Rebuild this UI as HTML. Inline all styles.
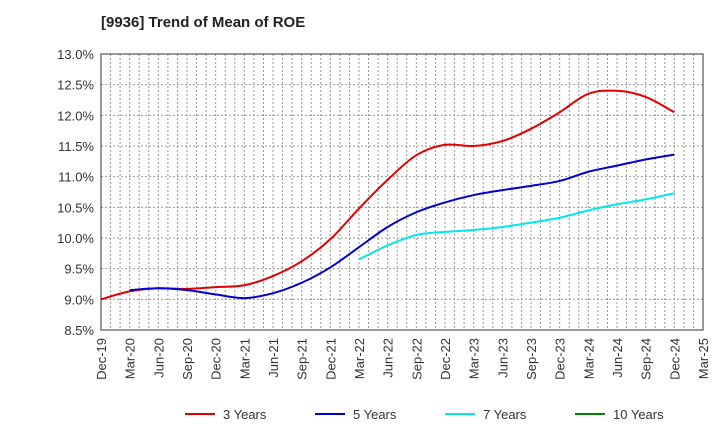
<!DOCTYPE html>
<html><head><meta charset="utf-8"><style>
body{margin:0;background:#fff;font-family:"Liberation Sans",sans-serif}
svg text{font-family:"Liberation Sans",sans-serif}
</style></head><body>
<svg id="c" width="720" height="440">
<text x="101" y="27" font-size="15" font-weight="bold" fill="#222">[9936]  Trend of Mean of ROE</text>
<g id="grid"></g><g id="series"></g><g id="axes"></g><g id="legend"></g>
</svg>
<script>
const xLabels=["Dec-19","Mar-20","Jun-20","Sep-20","Dec-20","Mar-21","Jun-21","Sep-21","Dec-21","Mar-22","Jun-22","Sep-22","Dec-22","Mar-23","Jun-23","Sep-23","Dec-23","Mar-24","Jun-24","Sep-24","Dec-24","Mar-25"];
const yTicks=[8.5,9.0,9.5,10.0,10.5,11.0,11.5,12.0,12.5,13.0];
const s3=[9.0,9.13,9.18,9.17,9.2,9.23,9.38,9.62,9.98,10.48,10.95,11.35,11.52,11.5,11.58,11.78,12.05,12.35,12.4,12.3,12.05];
const s5=[null,9.15,9.18,9.15,9.08,9.02,9.1,9.27,9.52,9.85,10.18,10.42,10.58,10.7,10.78,10.85,10.93,11.08,11.18,11.28,11.36];
const s7=[null,null,null,null,null,null,null,null,null,9.65,9.88,10.05,10.1,10.13,10.18,10.25,10.33,10.45,10.55,10.63,10.73];
const s10=[];
const L=101,R=703,T=54,B=330,NS="http://www.w3.org/2000/svg";
const x=i=>L+(R-L)*i/(xLabels.length-1);
const y=v=>B-(v-8.5)/(13-8.5)*(B-T);
function mk(t,a,p){const e=document.createElementNS(NS,t);for(const k in a)e.setAttribute(k,a[k]);p.appendChild(e);return e;}
const g=document.getElementById('grid'),ax=document.getElementById('axes'),se=document.getElementById('series'),lg=document.getElementById('legend');
for(let m=1;m<63;m++){const xx=L+(R-L)*m/63;const l=mk('line',{x1:xx,x2:xx,y1:T,y2:B,stroke:'#999','stroke-dasharray':'2,2','stroke-width':1},g);

}
yTicks.forEach(v=>{const l=mk('line',{x1:L,x2:R,y1:y(v),y2:y(v),stroke:'#999','stroke-dasharray':'2,2'},g);


const t=mk('text',{x:L-7,y:y(v)+5,'text-anchor':'end','font-size':13,fill:'#333'},ax);t.textContent=v.toFixed(1)+'%';

});
const fr=mk('rect',{x:L,y:T,width:R-L,height:B-T,fill:'none',stroke:'#333'},ax);


xLabels.forEach((s,i)=>{const t=mk('text',{transform:`translate(${x(i)+5},${B+8}) rotate(-90)`,'text-anchor':'end','font-size':13,fill:'#333'},ax);t.textContent=s;

});
function path(d){const p=[];d.forEach((v,i)=>{if(v!=null)p.push([x(i),y(v)]);});if(!p.length)return'';
let s=`M${p[0][0]},${p[0][1]}`;for(let i=0;i<p.length-1;i++){const p0=p[i-1]||p[i],p1=p[i],p2=p[i+1],p3=p[i+2]||p2;
s+=`C${p1[0]+(p2[0]-p0[0])/6},${p1[1]+(p2[1]-p0[1])/6} ${p2[0]-(p3[0]-p1[0])/6},${p2[1]-(p3[1]-p1[1])/6} ${p2[0]},${p2[1]}`;}return s;}
[[s3,'#e00000','3 Years'],[s5,'#0000d0','5 Years'],[s7,'#00e8e8','7 Years'],[s10,'#008000','10 Years']].forEach((d,k)=>{
const p=mk('path',{d:path(d[0]),fill:'none',stroke:d[1],'stroke-width':2},se);


const lx=185+k*130;const gg=mk('g',{},lg);


mk('line',{x1:lx,x2:lx+30,y1:414,y2:414,stroke:d[1],'stroke-width':2},gg);
const t=mk('text',{x:lx+38,y:419,'font-size':13,fill:'#333'},gg);t.textContent=d[2];});
</script>
</body></html>
